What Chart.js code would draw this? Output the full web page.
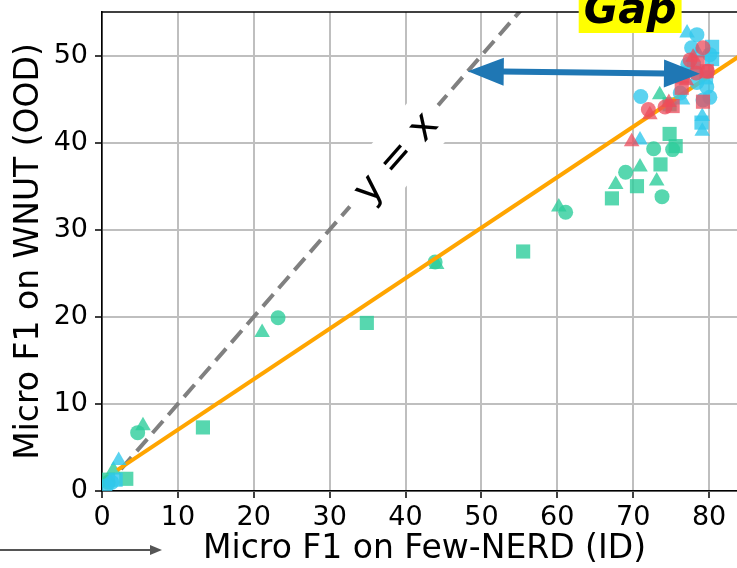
<!DOCTYPE html>
<html lang="en">
<head>
  <meta charset="UTF-8" />
  <title>Few-NERD (ID) vs WNUT (OOD)</title>
  <script src="https://cdn.jsdelivr.net/npm/chart.js"></script>
  <style>
    html, body { margin: 0; padding: 0; overflow: hidden; background: #fff; }
    canvas { display: block; }
  </style>
</head>
<body>

  <canvas id="graph" width="760" height="568"></canvas>

  <script>
    // points, [Few-NERD F1, WNUT F1]
    const greenCircles = [[0.8, 1.0], [4.7, 6.7], [23.2, 19.9], [43.9, 26.3], [61.1, 32.0], [69.0, 36.6], [72.7, 39.3], [75.2, 39.2], [73.8, 33.8]];
    const greenTriangles = [[1.5, 2.4], [5.4, 7.5], [21.1, 18.2], [44.1, 26.0], [60.2, 32.6], [67.7, 35.2], [70.9, 37.2], [73.1, 35.6], [73.5, 45.5]];
    const greenSquares = [[0.8, 1.3], [3.2, 1.4], [13.3, 7.3], [34.9, 19.3], [55.5, 27.5], [67.2, 33.6], [70.5, 35.0], [73.6, 37.5], [74.8, 41.0], [75.6, 39.6], [74.8, 44.4]];

    const cyanCircles = [[1.3, 1.0], [0.6, 0.6], [71.0, 45.3], [77.7, 50.9], [78.4, 52.4], [80.1, 50.1], [77.2, 49.0], [79.7, 46.4], [78.4, 46.9], [76.2, 45.7], [80.1, 45.2], [79.2, 44.9], [76.8, 48.0]];
    const cyanTriangles = [[2.2, 3.5], [70.9, 40.3], [77.1, 52.6], [79.1, 43.0], [79.1, 41.3], [76.5, 44.9], [78.5, 50.3]];
    const cyanSquares = [[1.8, 1.3], [80.4, 51.0], [80.4, 49.6], [79.0, 42.3], [78.0, 48.5], [79.6, 47.5]];

    const redCircles = [[79.2, 50.9], [77.5, 49.5], [72.0, 43.8], [74.2, 44.1], [79.8, 48.2], [78.3, 48.0]];
    const redTriangles = [[77.9, 49.8], [72.2, 43.2], [69.8, 40.1], [74.7, 44.6], [77.0, 47.1]];
    const redSquares = [[79.7, 48.2], [76.4, 46.3], [76.5, 47.6], [79.2, 44.7], [75.2, 44.2], [78.5, 49.2]];

    // fitted trend and identity line
    const trendLine = [[2, 2.4], [86, 51.1]];
    const identityLine = [[2.5, 2.5], [60, 60]];

    // where the annotations sit, in data units
    const gapArrow = { x1: 48.2, y1: 48.2, x2: 78.8, y2: 47.9 };
    const identityLabel = { x: 38.7, y: 38.3, text: 'y = x' };
    const gapLabel = { x: 69.6, text: 'Gap' };

    const xTicks = [0, 10, 20, 30, 40, 50, 60, 70, 80];
    const yTicks = [0, 10, 20, 30, 40, 50];

    const GREEN = 'rgba(45, 205, 155, 0.8)';
    const CYAN = 'rgba(50, 200, 236, 0.8)';
    const RED = 'rgba(236, 76, 92, 0.75)';
    const FONT = 'DejaVu Sans';

    function points(arr) {
      return arr.map(p => ({ x: p[0], y: p[1] }));
    }

    function nuage(label, arr, couleur, forme, rayon, ordre) {
      return {
        label,
        data: points(arr),
        backgroundColor: couleur,
        borderWidth: 0,
        pointStyle: forme,
        pointRadius: rayon,
        pointHoverRadius: rayon,
        order: ordre
      };
    }

    function ligne(label, arr, couleur, largeur, tirets, ordre) {
      return {
        label,
        data: points(arr),
        showLine: true,
        borderColor: couleur,
        borderWidth: largeur,
        borderDash: tirets,
        borderCapStyle: 'butt',
        pointRadius: 0,
        fill: false,
        order: ordre
      };
    }

    function pointe(ctx, tx, ty, dx, dy, long, demi) {
      const bx = tx - dx * long, by = ty - dy * long;
      ctx.beginPath();
      ctx.moveTo(tx, ty);
      ctx.lineTo(bx - dy * demi, by + dx * demi);
      ctx.lineTo(bx + dy * demi, by - dx * demi);
      ctx.closePath();
      ctx.fill();
    }

    const annotations = {
      id: 'annotations',
      afterDatasetsDraw(chart) {
        const { ctx, chartArea } = chart;
        const sx = chart.scales.x, sy = chart.scales.y;
        ctx.save();

        // top spine
        ctx.strokeStyle = '#000';
        ctx.lineWidth = 1.6;
        ctx.beginPath();
        ctx.moveTo(chartArea.left, chartArea.top);
        ctx.lineTo(chartArea.right, chartArea.top);
        ctx.stroke();

        // y = x label on a white box, turned along the line
        const ax = sx.getPixelForValue(0), ay = sy.getPixelForValue(0);
        const bx = sx.getPixelForValue(50), by = sy.getPixelForValue(50);
        const angle = Math.atan2(by - ay, bx - ax);
        ctx.save();
        ctx.translate(sx.getPixelForValue(identityLabel.x), sy.getPixelForValue(identityLabel.y));
        ctx.rotate(angle);
        ctx.font = '40px "' + FONT + '"';
        const tw = ctx.measureText(identityLabel.text).width;
        ctx.fillStyle = '#fff';
        ctx.fillRect(-tw / 2 - 14, -27, tw + 28, 54);
        ctx.fillStyle = '#000';
        ctx.textAlign = 'center';
        ctx.textBaseline = 'middle';
        ctx.fillText(identityLabel.text, 0, 2);
        ctx.restore();

        // double arrow showing the gap
        const x1 = sx.getPixelForValue(gapArrow.x1), y1 = sy.getPixelForValue(gapArrow.y1);
        const x2 = sx.getPixelForValue(gapArrow.x2), y2 = sy.getPixelForValue(gapArrow.y2);
        const len = Math.hypot(x2 - x1, y2 - y1);
        const ux = (x2 - x1) / len, uy = (y2 - y1) / len;
        const tete = 36;
        ctx.strokeStyle = '#1f77b4';
        ctx.fillStyle = '#1f77b4';
        ctx.lineWidth = 6;
        ctx.beginPath();
        ctx.moveTo(x1 + ux * (tete - 2), y1 + uy * (tete - 2));
        ctx.lineTo(x2 - ux * (tete - 2), y2 - uy * (tete - 2));
        ctx.stroke();
        pointe(ctx, x2, y2, ux, uy, tete, 14);
        pointe(ctx, x1, y1, -ux, -uy, tete, 14);

        // "Gap" on yellow, cut by the top of the figure
        const gx = sx.getPixelForValue(gapLabel.x);
        ctx.font = 'italic bold 42px "' + FONT + '"';
        const gw = ctx.measureText(gapLabel.text).width;
        ctx.fillStyle = '#ffff00';
        ctx.fillRect(gx - gw / 2 - 5, -20, gw + 10, 53);
        ctx.fillStyle = '#000';
        ctx.textAlign = 'center';
        ctx.textBaseline = 'alphabetic';
        ctx.fillText(gapLabel.text, gx, 23);

        // leftover arrow at bottom left
        ctx.strokeStyle = '#555';
        ctx.fillStyle = '#555';
        ctx.lineWidth = 2;
        ctx.beginPath();
        ctx.moveTo(0, 550);
        ctx.lineTo(152, 550);
        ctx.stroke();
        pointe(ctx, 162, 550, 1, 0, 12, 5);

        ctx.restore();
      }
    };

    function axe(titre, min, max, valeurs, titrePadding, tickPadding, fit) {
      return {
        type: 'linear',
        min,
        max,
        afterBuildTicks: s => { s.ticks = valeurs.map(v => ({ value: v })); },
        afterFit: s => {
          fit(s);
          // the labels may spill out of the plot, like in matplotlib
          s.paddingTop = 0; s.paddingBottom = 0;
          s.paddingLeft = 0; s.paddingRight = 0;
        },
        ticks: {
          color: '#000',
          font: { family: FONT, size: 27 },
          padding: tickPadding,
          callback: v => String(v)
        },
        grid: {
          color: '#bfbfbf',
          lineWidth: 2,
          tickColor: '#000',
          tickLength: 7,
          tickWidth: 1.5
        },
        border: { color: '#000', width: 1.6 },
        title: {
          display: true,
          text: titre,
          color: '#000',
          font: { family: FONT, size: 33, lineHeight: 1.1 },
          padding: titrePadding
        }
      };
    }

    new Chart(document.getElementById('graph'), {
      type: 'scatter',
      data: {
        datasets: [
          nuage('green circles', greenCircles, GREEN, 'circle', 7.5, 6),
          nuage('green triangles', greenTriangles, GREEN, 'triangle', 9, 6),
          nuage('green squares', greenSquares, GREEN, 'rect', 10, 6),
          ligne('y = x', identityLine, '#808080', 4, [16, 8], 5),
          ligne('trend', trendLine, '#ffa500', 4, [], 4),
          nuage('cyan circles', cyanCircles, CYAN, 'circle', 7.5, 3),
          nuage('cyan triangles', cyanTriangles, CYAN, 'triangle', 9, 3),
          nuage('cyan squares', cyanSquares, CYAN, 'rect', 10, 3),
          nuage('red circles', redCircles, RED, 'circle', 7.5, 1),
          nuage('red triangles', redTriangles, RED, 'triangle', 9, 1),
          nuage('red squares', redSquares, RED, 'rect', 10, 1)
        ]
      },
      options: {
        responsive: false,
        animation: false,
        layout: { padding: { top: 12, right: 13, left: 0, bottom: 0 } },
        plugins: {
          legend: { display: false },
          tooltip: { enabled: false }
        },
        scales: {
          x: axe('Micro F1 on Few-NERD (ID)', 0, 85, xTicks, { top: 0, bottom: 0 }, 4, s => { s.height = 77; }),
          y: axe('Micro F1 on WNUT (OOD)', 0, 55, yTicks, { top: 11, bottom: 0 }, 7, s => { s.width = 102; })
        }
      },
      plugins: [annotations]
    });
  </script>

</body>
</html>
